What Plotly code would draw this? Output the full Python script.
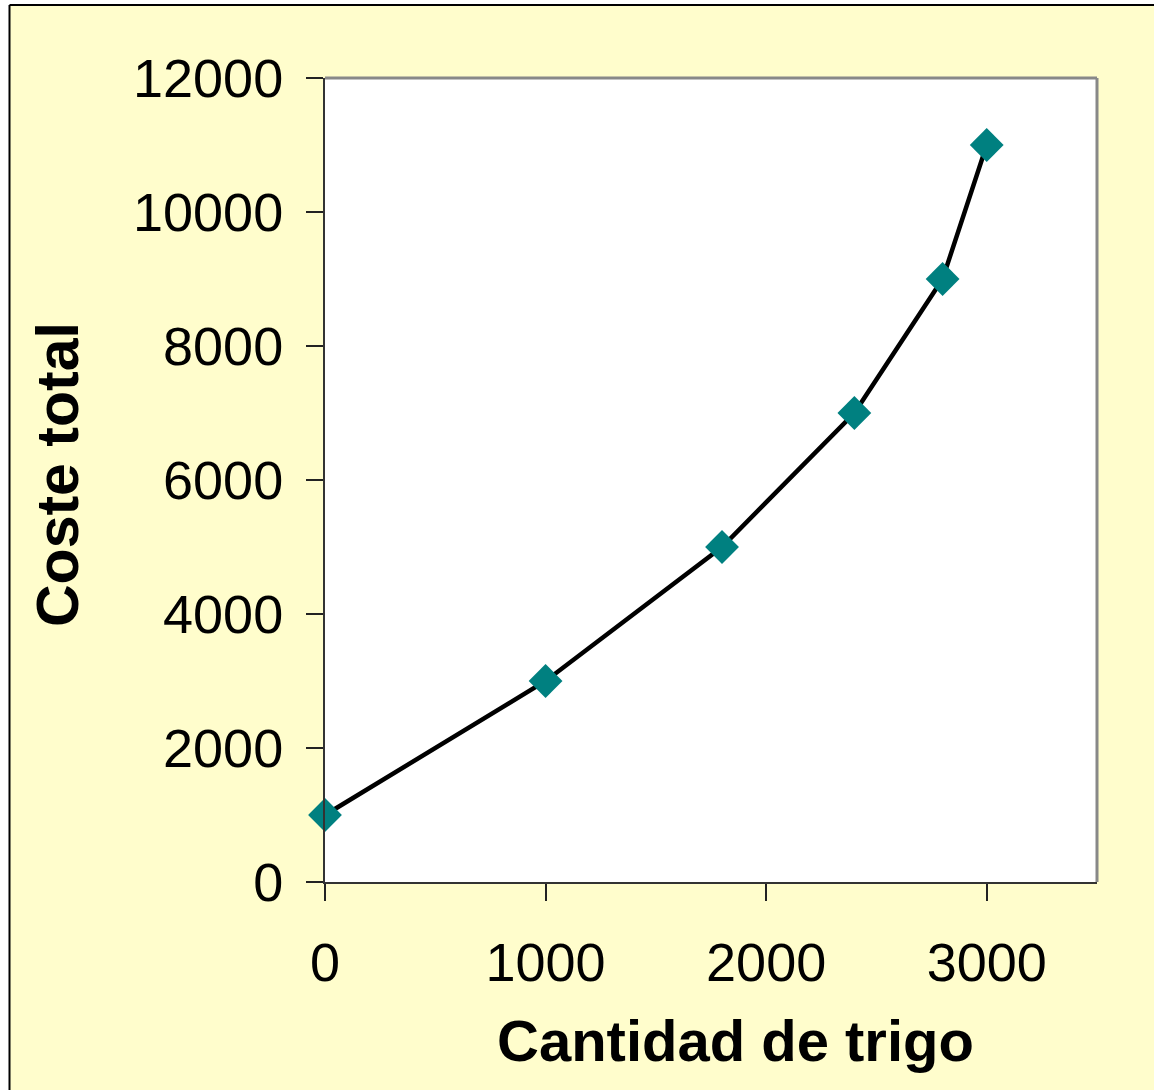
import plotly.graph_objects as go

# data
cantidad = [0, 1000, 1800, 2400, 2800, 3000]
coste = [1000, 3000, 5000, 7000, 9000, 11000]
x_ticks = [0, 1000, 2000, 3000]
y_ticks = [0, 2000, 4000, 6000, 8000, 10000, 12000]

W, H = 1154, 1090
L, T = 325, 78
pw, ph = 772, 804
R, B = W - L - pw, H - T - ph


def px_x(p):
  # page pixel -> paper x
  return (p - L) / pw


def px_y(p):
  # page pixel -> paper y
  return (T + ph - p) / ph


fig = go.Figure()
fig.add_trace(go.Scatter(
    x=cantidad, y=coste, mode='lines+markers',
    line=dict(color='black', width=4.5),
    marker=dict(symbol='diamond', size=26, color='#008080'),
    cliponaxis=False, showlegend=False))

font = 'Liberation Sans, Arial, sans-serif'
fig.update_xaxes(range=[0, 3500], tickvals=x_ticks, ticktext=[str(v) for v in x_ticks],
                 ticks='outside', ticklen=17, tickwidth=1.5, tickcolor='#222',
                 showline=True, linecolor='#333', linewidth=2, showgrid=False,
                 zeroline=False, ticklabelstandoff=15,
                 tickfont=dict(family=font, size=54, color='black'))
fig.update_yaxes(range=[0, 12000], tickvals=y_ticks, ticktext=[str(v) for v in y_ticks],
                 ticks='outside', ticklen=17, tickwidth=1.5, tickcolor='#222',
                 showline=True, linecolor='#333', linewidth=2, showgrid=False,
                 zeroline=False, ticklabelstandoff=12,
                 tickfont=dict(family=font, size=54, color='black'))

# axis titles
fig.add_annotation(text='<b>Cantidad de trigo</b>', xref='paper', yref='paper',
                   x=px_x(735), y=px_y(1040), xanchor='center', yanchor='middle',
                   showarrow=False, font=dict(family=font, size=58, color='black'))
fig.add_annotation(text='<b>Coste total</b>', xref='paper', yref='paper',
                   x=px_x(58), y=px_y(475), xanchor='center', yanchor='middle',
                   textangle=-90, showarrow=False,
                   font=dict(family=font, size=59, color='black'))

# white strips outside the black border (left and top)
fig.add_shape(type='rect', xref='paper', yref='paper', x0=px_x(0), x1=px_x(9.5),
              y0=px_y(H), y1=px_y(0), line_width=0, fillcolor='white')
fig.add_shape(type='rect', xref='paper', yref='paper', x0=px_x(0), x1=px_x(W),
              y0=px_y(5), y1=px_y(0), line_width=0, fillcolor='white')
# grey frame on top/right of plot area and the black outer border lines
fig.add_shape(type='line', xref='paper', yref='paper', x0=0, x1=1, y0=1, y1=1,
              line=dict(color='#888', width=3))
fig.add_shape(type='line', xref='paper', yref='paper', x0=1, x1=1, y0=0, y1=1,
              line=dict(color='#888', width=3))
fig.add_shape(type='line', xref='paper', yref='paper', x0=px_x(9.5), x1=px_x(9.5),
              y0=px_y(5), y1=px_y(H), line=dict(color='black', width=2))
fig.add_shape(type='line', xref='paper', yref='paper', x0=px_x(9.5), x1=px_x(W),
              y0=px_y(5), y1=px_y(5), line=dict(color='black', width=2))

fig.update_layout(width=W, height=H, margin=dict(l=L, r=R, t=T, b=B, pad=0),
                  paper_bgcolor='#FFFDCC', plot_bgcolor='white')

# drop the default body margin so the figure fills the window exactly
fig.write_html("out.html", config={'displayModeBar': False},
               post_script="document.body.style.margin='0';")
